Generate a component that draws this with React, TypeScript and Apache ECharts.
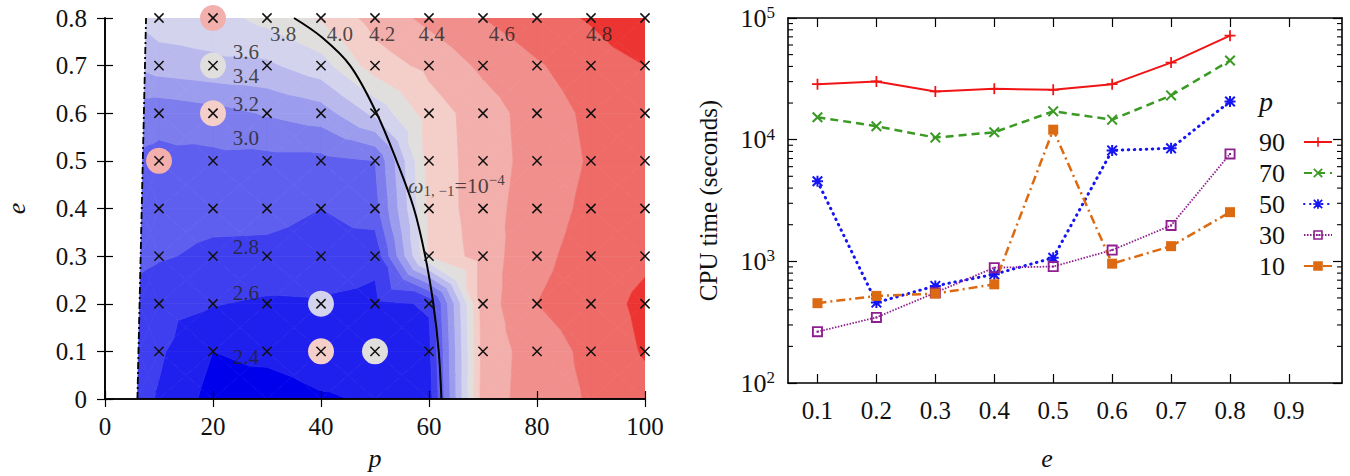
import { useEffect, useRef } from 'react';
import * as echarts from 'echarts';

const SERIF = "'Liberation Serif', 'DejaVu Serif', serif";

// ---------- Left panel: log10 CPU time over the (p, e) plane ----------
const P_GRID = [10, 20, 30, 40, 50, 60, 70, 80, 90, 100];
const E_GRID = [0, 0.1, 0.2, 0.3, 0.4, 0.5, 0.6, 0.7, 0.8];
// separatrix p = 6 + 2e, one entry per row of E_GRID
const P_SEPARATRIX = [6.0, 6.2, 6.4, 6.6, 6.8, 7.0, 7.2, 7.4, 7.6];
// one row per eccentricity: value on the separatrix, then at each P_GRID point
const LOG_T_E00 = [2.68, 2.58, 2.33, 2.3, 2.38, 2.42, 2.5, 4.3, 4.5, 4.62, 4.72];
const LOG_T_E01 = [2.68, 2.63, 2.4, 2.45, 2.5, 2.48, 2.55, 4.28, 4.5, 4.65, 4.82];
const LOG_T_E02 = [2.72, 2.66, 2.61, 2.57, 2.58, 2.55, 2.62, 4.3, 4.6, 4.7, 4.85];
const LOG_T_E03 = [2.85, 2.82, 2.76, 2.75, 2.72, 2.65, 4.0, 4.3, 4.55, 4.68, 4.76];
const LOG_T_E04 = [2.92, 2.88, 2.86, 2.86, 2.8, 2.92, 4.05, 4.32, 4.5, 4.65, 4.7];
const LOG_T_E05 = [2.97, 2.96, 2.95, 2.94, 2.94, 3.0, 4.08, 4.3, 4.48, 4.62, 4.66];
const LOG_T_E06 = [3.08, 3.05, 3.12, 3.22, 3.3, 3.65, 4.1, 4.3, 4.5, 4.64, 4.72];
const LOG_T_E07 = [3.45, 3.5, 3.55, 3.56, 3.72, 4.1, 4.25, 4.44, 4.58, 4.7, 4.8];
const LOG_T_E08 = [3.66, 3.7, 3.72, 3.86, 4.02, 4.28, 4.45, 4.6, 4.72, 4.82, 4.98];
const LOG_T_ROWS = [LOG_T_E00, LOG_T_E01, LOG_T_E02, LOG_T_E03, LOG_T_E04, LOG_T_E05, LOG_T_E06, LOG_T_E07, LOG_T_E08];

const LEVELS = [2.4, 2.6, 2.8, 3.0, 3.2, 3.4, 3.6, 3.8, 4.0, 4.2, 4.4, 4.6, 4.8];
const BAND_COLORS = [
  '#0000ec', '#2020ee', '#3f3fef', '#5f5fef', '#7d7dee', '#9c9cee', '#b9b9ee',
  '#d3d3ee', '#e1dfde', '#f4cfca', '#f2afac', '#f08f8c', '#ee6b68', '#ec3532',
];

// sampled points: [p, e, log10 time] shown as highlighted circles
const OUTLIERS = [
  [20, 0.8, 4.35], [20, 0.7, 3.9], [20, 0.6, 4.1], [10, 0.5, 4.3],
  [40, 0.2, 3.7], [40, 0.1, 4.1], [50, 0.1, 3.9],
];
const SAMPLE_E = [0.1, 0.2, 0.3, 0.4, 0.5, 0.6, 0.7, 0.8];

// omega_{1,-1} = 1e-4 curve
const RESONANCE = [
  [62.3, 0], [61.8, 0.1], [60.8, 0.2], [59.3, 0.3], [57.2, 0.4], [54.0, 0.5],
  [50.3, 0.6], [45.4, 0.7], [40.1, 0.76], [35.0, 0.8],
];
const SEPARATRIX_LINE = [[6.0, 0], [7.6, 0.8]];

const CONTOUR_LABELS: [string, number, number][] = [
  ['3.8', 33.0, 0.767], ['4.0', 43.5, 0.767], ['4.2', 51.3, 0.767], ['4.4', 60.5, 0.767],
  ['4.6', 73.5, 0.767], ['4.8', 91.5, 0.767], ['3.6', 26.1, 0.729], ['3.4', 26.1, 0.679],
  ['3.2', 26.1, 0.62], ['3.0', 26.1, 0.549], ['2.8', 26.1, 0.319], ['2.6', 26.1, 0.222],
  ['2.4', 26.1, 0.088],
];

// ---------- Right panel: CPU time vs e ----------
const E_VALUES = [0.1, 0.2, 0.3, 0.4, 0.5, 0.6, 0.7, 0.8];
const E_TICKS = [0.1, 0.2, 0.3, 0.4, 0.5, 0.6, 0.7, 0.8, 0.9];
const T_P90 = [28600, 30100, 24900, 26200, 25700, 28600, 43000, 71600];
const T_P70 = [15300, 12900, 10400, 11500, 17100, 14600, 23100, 44700];
const T_P50 = [4550, 458, 628, 782, 1070, 8160, 8490, 20600];
const T_P30 = [264, 346, 553, 887, 906, 1238, 1972, 7640];
const T_P10 = [453, 520, 543, 647, 12080, 957, 1333, 2535];
const MINOR_TICKS = [
  200, 300, 400, 500, 600, 700, 800, 900,
  2000, 3000, 4000, 5000, 6000, 7000, 8000, 9000,
  20000, 30000, 40000, 50000, 60000, 70000, 80000, 90000,
];

type Pt = [number, number, number];

function clip(poly: Pt[], t: number, keepAbove: boolean): Pt[] {
  const out: Pt[] = [];
  for (let i = 0; i < poly.length; i++) {
    const a = poly[i];
    const b = poly[(i + 1) % poly.length];
    const ain = keepAbove ? a[2] >= t : a[2] <= t;
    const bin = keepAbove ? b[2] >= t : b[2] <= t;
    if (ain) out.push(a);
    if (ain !== bin) {
      const k = (t - a[2]) / (b[2] - a[2]);
      out.push([a[0] + k * (b[0] - a[0]), a[1] + k * (b[1] - a[1]), t]);
    }
  }
  return out;
}

function gridPt(r: number, c: number): Pt {
  const p = c === 0 ? P_SEPARATRIX[r] : P_GRID[c - 1];
  return [p, E_GRID[r], LOG_T_ROWS[r][c]];
}

function bandOf(v: number) {
  let k = 0;
  while (k < LEVELS.length && v >= LEVELS[k]) k++;
  return k;
}

// filled contour bands from a piecewise-linear surface on a centre-split grid
function buildBands() {
  const polys: { pts: Pt[]; band: number }[] = [];
  for (let r = 0; r < E_GRID.length - 1; r++) {
    for (let c = 0; c < P_GRID.length; c++) {
      const a = gridPt(r, c);
      const b = gridPt(r, c + 1);
      const cc = gridPt(r + 1, c + 1);
      const d = gridPt(r + 1, c);
      const m: Pt = [
        (a[0] + b[0] + cc[0] + d[0]) / 4,
        (a[1] + b[1] + cc[1] + d[1]) / 4,
        (a[2] + b[2] + cc[2] + d[2]) / 4,
      ];
      const tris: Pt[][] = [[a, b, m], [b, cc, m], [cc, d, m], [d, a, m]];
      for (const tri of tris) {
        for (let k = 0; k <= LEVELS.length; k++) {
          let poly: Pt[] = tri;
          if (k > 0) poly = clip(poly, LEVELS[k - 1], true);
          if (k < LEVELS.length && poly.length) poly = clip(poly, LEVELS[k], false);
          if (poly.length >= 3) polys.push({ pts: poly, band: k });
        }
      }
    }
  }
  return polys;
}

const SYM_PLUS = 'path://M4.2,0H5.8V4.2H10V5.8H5.8V10H4.2V5.8H0V4.2H4.2Z';
const SYM_CROSS = 'path://M1.3,0L5,3.7L8.7,0L10,1.3L6.3,5L10,8.7L8.7,10L5,6.3L1.3,10L0,8.7L3.7,5L0,1.3Z';
const SYM_STAR =
  'path://M4.1,0H5.9V4.1H10V5.9H5.9V10H4.1V5.9H0V4.1H4.1Z M1.3,0L5,3.7L8.7,0L10,1.3L6.3,5L10,8.7L8.7,10L5,6.3L1.3,10L0,8.7L3.7,5L0,1.3Z';
const SYM_OPEN_SQUARE = 'path://M0,0H10V10H0Z M1.7,1.7V8.3H8.3V1.7Z M4.1,4.1H5.9V5.9H4.1Z';

function buildOption() {
  const polys = buildBands();
  const crosses: number[][] = [];
  for (const p of P_GRID) for (const e of SAMPLE_E) crosses.push([p, e]);

  const tickLabel = { fontFamily: SERIF, fontSize: 25, color: '#111' };
  const nameStyle = { fontFamily: SERIF, fontSize: 26, color: '#111', fontStyle: 'italic' as const };
  const axisLine = { show: true, lineStyle: { color: '#000', width: 1.6 } };
  const tickIn = (len: number) => ({ show: true, inside: true, length: len, lineStyle: { color: '#000', width: 1.2 } });

  const lineSeries = (name: string, data: number[], color: string, type: any, width: number, symbol: string, size: number, extra: any = {}) => ({
    type: 'line',
    name,
    xAxisIndex: 2,
    yAxisIndex: 2,
    data: E_VALUES.map((e, i) => [e, data[i]]),
    symbol,
    symbolSize: size,
    showSymbol: true,
    itemStyle: { color },
    lineStyle: { color, width, type, ...extra },
    z: 5,
  });

  return {
    animation: false,
    backgroundColor: '#fff',
    grid: [
      { left: 105, top: 18, width: 540, height: 382, show: false },
      { left: 788, top: 18, width: 554, height: 366, show: false },
    ],
    xAxis: [
      {
        gridIndex: 0, type: 'value', min: 0, max: 100, interval: 20, position: 'bottom', z: 10,
        axisLine, axisTick: tickIn(8), splitLine: { show: false },
        axisLabel: { ...tickLabel, margin: 15 },
        name: 'p', nameLocation: 'middle', nameGap: 46, nameTextStyle: nameStyle,
      },
      {
        gridIndex: 0, type: 'value', min: 0, max: 100, interval: 20, position: 'top', z: 10,
        axisLine, axisTick: tickIn(8), splitLine: { show: false }, axisLabel: { show: false },
      },
      {
        gridIndex: 1, type: 'value', min: 0.05, max: 0.99, position: 'bottom', z: 10,
        axisLine, splitLine: { show: false },
        axisTick: { ...tickIn(9), customValues: E_TICKS },
        axisLabel: { ...tickLabel, margin: 15, customValues: E_TICKS, formatter: (v: number) => v.toFixed(1) },
        name: 'e', nameLocation: 'middle', nameGap: 62,
        nameTextStyle: { ...nameStyle, padding: [0, 36, 0, 0] },
      },
      {
        gridIndex: 1, type: 'value', min: 0.05, max: 0.99, position: 'top', z: 10,
        axisLine, splitLine: { show: false },
        axisTick: { ...tickIn(9), customValues: E_TICKS }, axisLabel: { show: false },
      },
    ],
    yAxis: [
      {
        gridIndex: 0, type: 'value', min: 0, max: 0.8, interval: 0.1, position: 'left', z: 10,
        axisLine, axisTick: tickIn(8), splitLine: { show: false },
        axisLabel: { ...tickLabel, margin: 18, formatter: (v: number) => (v === 0 ? '0' : v.toFixed(1)) },
        name: 'e', nameLocation: 'middle', nameRotate: 90, nameGap: 76, nameTextStyle: nameStyle,
      },
      {
        gridIndex: 0, type: 'value', min: 0, max: 0.8, interval: 0.1, position: 'right', z: 10,
        axisLine, axisTick: tickIn(8), splitLine: { show: false }, axisLabel: { show: false },
      },
      {
        gridIndex: 1, type: 'log', logBase: 10, min: 100, max: 100000, position: 'left', z: 10,
        axisLine, axisTick: tickIn(9), splitLine: { show: false },
        axisLabel: {
          margin: 13,
          formatter: (v: number) => `{b|10}{s|${Math.round(Math.log10(v))}}`,
          rich: {
            b: { fontFamily: SERIF, fontSize: 26, color: '#111', lineHeight: 28 },
            s: { fontFamily: SERIF, fontSize: 17, color: '#111', lineHeight: 15, verticalAlign: 'top' },
          },
        },
        name: 'CPU time (seconds)', nameLocation: 'middle', nameRotate: 90, nameGap: 67,
        nameTextStyle: { fontFamily: SERIF, fontSize: 25, color: '#111' },
      },
      {
        gridIndex: 1, type: 'log', logBase: 10, min: 100, max: 100000, position: 'right', z: 10,
        axisLine, axisTick: tickIn(9), splitLine: { show: false }, axisLabel: { show: false },
      },
    ],
    legend: {
      orient: 'vertical', left: 1254, top: 124, align: 'right',
      itemWidth: 28, itemHeight: 12, itemGap: 5, selectedMode: false,
      textStyle: { fontFamily: SERIF, fontSize: 26, color: '#111', padding: [0, 14, 0, 0] },
      data: ['90', '70', '50', '30', '10'],
    },
    graphic: [
      {
        type: 'text', x: 1266, y: 101,
        style: { text: 'p', fontFamily: SERIF, fontSize: 28, fontStyle: 'italic', fill: '#111', align: 'center', verticalAlign: 'middle' },
      },
    ],
    series: [
      {
        type: 'custom', xAxisIndex: 0, yAxisIndex: 0, silent: true, clip: true, z: 1,
        data: polys.map((pl, i) => [pl.pts[0][0], pl.pts[0][1], i]),
        renderItem: (params: any, api: any) => {
          const pl = polys[params.dataIndex];
          const color = BAND_COLORS[pl.band];
          return {
            type: 'polygon',
            shape: { points: pl.pts.map((pt) => api.coord([pt[0], pt[1]])) },
            style: { fill: color, stroke: color, lineWidth: 0.7 },
          };
        },
      },
      {
        type: 'scatter', xAxisIndex: 0, yAxisIndex: 0, silent: true, z: 3,
        symbol: 'circle', symbolSize: 26,
        data: OUTLIERS.map((o) => [o[0], o[1], o[2]]),
        itemStyle: { color: (p: any) => BAND_COLORS[bandOf(p.value[2])], opacity: 1 },
      },
      {
        type: 'line', xAxisIndex: 0, yAxisIndex: 0, silent: true, z: 4, symbol: 'none',
        data: SEPARATRIX_LINE,
        lineStyle: { color: '#000', width: 1.8, type: [7, 3, 2, 3] },
      },
      {
        type: 'line', xAxisIndex: 0, yAxisIndex: 0, silent: true, z: 4, symbol: 'none', smooth: 0.35,
        data: RESONANCE,
        lineStyle: { color: '#000', width: 2 },
      },
      {
        type: 'custom', xAxisIndex: 0, yAxisIndex: 0, silent: true, z: 6,
        data: crosses,
        renderItem: (_params: any, api: any) => {
          const c = api.coord([api.value(0), api.value(1)]);
          const h = 4.6;
          const st = { stroke: '#111', lineWidth: 1.5 };
          return {
            type: 'group',
            children: [
              { type: 'line', shape: { x1: c[0] - h, y1: c[1] - h, x2: c[0] + h, y2: c[1] + h }, style: st },
              { type: 'line', shape: { x1: c[0] - h, y1: c[1] + h, x2: c[0] + h, y2: c[1] - h }, style: st },
            ],
          };
        },
      },
      {
        type: 'scatter', xAxisIndex: 0, yAxisIndex: 0, silent: true, z: 7,
        symbol: 'circle', symbolSize: 1, itemStyle: { color: 'transparent' },
        data: CONTOUR_LABELS.map(([t, p, e]) => ({ name: t, value: [p, e] })),
        label: { show: true, position: 'inside', formatter: '{b}', fontFamily: SERIF, fontSize: 21, color: '#222' },
      },
      {
        type: 'scatter', xAxisIndex: 0, yAxisIndex: 0, silent: true, z: 7,
        symbol: 'circle', symbolSize: 1, itemStyle: { color: 'transparent' },
        data: [{ name: 'omega', value: [56.1, 0.448] }],
        label: {
          show: true, position: 'inside', align: 'left',
          formatter: '{w|ω}{sb|1, −1}{t|=10}{sp|−4}',
          rich: {
            w: { fontFamily: SERIF, fontSize: 22, fontStyle: 'italic', color: '#222', lineHeight: 26 },
            sb: { fontFamily: SERIF, fontSize: 15, color: '#222', lineHeight: 15, verticalAlign: 'bottom' },
            t: { fontFamily: SERIF, fontSize: 22, color: '#222', lineHeight: 26 },
            sp: { fontFamily: SERIF, fontSize: 15, color: '#222', lineHeight: 15, verticalAlign: 'top' },
          },
        },
      },
      // minor ticks of the logarithmic axes (left and right edges)
      {
        type: 'custom', xAxisIndex: 2, yAxisIndex: 2, silent: true, z: 9,
        data: MINOR_TICKS.map((v) => [0.5, v]),
        renderItem: (params: any, api: any) => {
          const cs = params.coordSys;
          const y = api.coord([0.5, api.value(1)])[1];
          const st = { stroke: '#000', lineWidth: 1.1 };
          return {
            type: 'group',
            children: [
              { type: 'line', shape: { x1: cs.x, y1: y, x2: cs.x + 5, y2: y }, style: st },
              { type: 'line', shape: { x1: cs.x + cs.width, y1: y, x2: cs.x + cs.width - 5, y2: y }, style: st },
            ],
          };
        },
      },
      lineSeries('90', T_P90, '#f01414', 'solid', 2, SYM_PLUS, 11),
      lineSeries('70', T_P70, '#3a9a24', [8, 5], 2.5, SYM_CROSS, 11),
      lineSeries('50', T_P50, '#1414f5', [0.5, 5.5], 3, SYM_STAR, 11, { cap: 'round' }),
      lineSeries('30', T_P30, '#8e1f8e', [1.5, 1.5], 1.8, SYM_OPEN_SQUARE, 11),
      lineSeries('10', T_P10, '#dc6a12', [9, 4, 2, 4], 2.5, 'rect', 10),
    ],
  };
}

export default function App() {
  const ref = useRef<HTMLDivElement>(null);
  useEffect(() => {
    if (!ref.current) return;
    const chart = echarts.init(ref.current, null, { renderer: 'svg' });
    chart.setOption(buildOption() as any);
    return () => chart.dispose();
  }, []);
  return (
    <div
      ref={ref}
      style={{ position: 'absolute', left: 0, top: 0, width: 1350, height: 476, background: '#fff' }}
    />
  );
}
